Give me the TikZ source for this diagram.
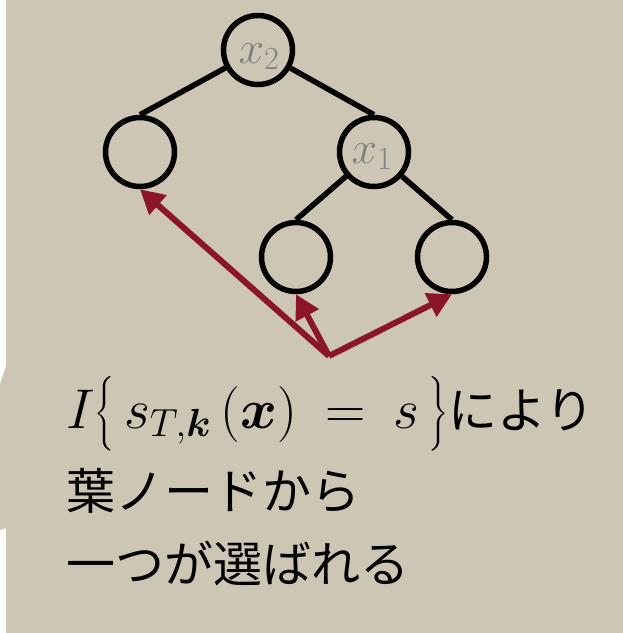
\RequirePackage{fix-cm}
\documentclass[tikz,border=0pt]{standalone}
\usepackage{amsmath}
\usepackage{bm}
\usepackage{fontspec}
\newfontfamily\jp{Noto Sans CJK JP}
\usetikzlibrary{arrows.meta}
\definecolor{bg}{RGB}{206,198,180}
\definecolor{arr}{RGB}{139,22,42}
\definecolor{lab}{RGB}{128,128,128}
\begin{document}
\begin{tikzpicture}[x=1pt,y=-1pt,
  tn/.style={circle,draw=black,line width=5.5pt,minimum size=69pt,inner sep=0pt},
  edge/.style={line width=5.5pt},
  redarr/.style={draw=arr,line width=6pt,-{Triangle[length=24pt,width=25pt]}},
  lbl/.style={text=lab,font=\fontsize{46}{46}\selectfont,inner sep=0pt,anchor=base},
  txt/.style={anchor=base west,inner sep=0pt,font=\fontsize{49}{60}\selectfont}]
\useasboundingbox (0,0) rectangle (623,633);
\fill[white] (0,0) rectangle (623,633);
\fill[bg] (6,0) -- (623,0) -- (623,633) -- (6,633) -- (6,528) -- (0,530) -- (0,384) -- (6,366) -- cycle;
\node[tn] (top) at (258,50) {};
\node[tn] (L) at (140,152) {};
\node[tn] (R) at (374,152) {};
\node[tn] (BL) at (296,257) {};
\node[tn] (BR) at (452,257) {};
\node[lbl] (x2) at (259,63) {$x_2$};
\node[lbl] (x1) at (372,163) {$x_1$};
\draw[edge] (top) -- (L.north);
\draw[edge] (top) -- (R.north);
\draw[edge] (R) -- (BL.north);
\draw[edge] (R) -- (BR.north);
\coordinate (o) at (329,356);
\draw[redarr] (o) -- (L.south);
\draw[redarr] (o) -- (BL.south);
\draw[redarr] (o) -- (BR.south);
\node[txt] (t1) at (66,428) {{\fontsize{56}{60}\selectfont$I\big\{\,s_{T,\bm{k}}\,(\bm{x})\:=\:s\,\big\}$}\jp により};
\node[txt] (t2) at (66,509) {\jp 葉ノードから};
\node[txt] (t3) at (66,582) {\jp 一つが選ばれる};
\end{tikzpicture}
\end{document}
